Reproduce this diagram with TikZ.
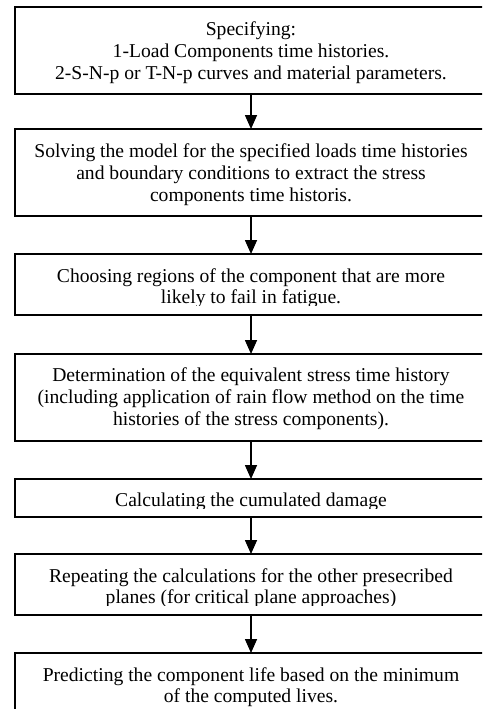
\documentclass[tikz,border=0pt]{standalone}
\usepackage{fontspec}
\setmainfont{Liberation Serif}
\usetikzlibrary{arrows.meta}
\begin{document}
\begin{tikzpicture}[x=1pt,y=-1pt,
  box/.style={draw, line width=1.6pt, minimum width=472pt, inner sep=0pt, outer sep=0pt},
  txt/.style={anchor=north, inner sep=0pt, align=center, font=\fontsize{19.6}{21.8}\selectfont},
  arr/.style={line width=1.6pt, -{Triangle[width=12pt,length=14pt]}}]
\useasboundingbox (0,0) rectangle (482,709);
\clip (0,0) rectangle (482,709);
\fill[white] (0,0) rectangle (482,709);
% boxes
\node[box, minimum height=87pt] (b1) at (251,50.5) {};
\node[box, minimum height=87pt] (b2) at (251,172.5) {};
\node[box, minimum height=61pt] (b3) at (251,284.5) {};
\node[box, minimum height=87pt] (b4) at (251,397.5) {};
\node[box, minimum height=38pt] (b5) at (251,498) {};
\node[box, minimum height=61pt] (b6) at (251,584.5) {};
\node[box, minimum height=87pt] (b7) at (251,696.5) {};
% texts
\node[txt] (t1) at (251,21.6) {Specifying:\\1-Load Components time histories.\\2-S-N-p or T-N-p curves and material parameters.};
\node[txt] (t2) at (251,143.6) {Solving the model for the specified loads time histories\\and boundary conditions to extract the stress\\components time historis.};
\begin{scope}
\clip (0,254) rectangle (482,305);
\node[txt] (t3) at (251,268.1) {Choosing regions of the component that are more\\likely to fail in fatigue.};
\end{scope}
\node[txt] (t4) at (251,367.6) {Determination of the equivalent stress time history\\(including application of rain flow method on the time\\histories of the stress components).};
\begin{scope}
\clip (0,479) rectangle (482,508);
\node[txt] (t5) at (251,493.1) {Calculating the cumulated damage};
\end{scope}
\begin{scope}
\clip (0,554) rectangle (482,605);
\node[txt] (t6) at (251,568.1) {Repeating the calculations for the other presecribed\\planes (for critical plane approaches)};
\end{scope}
\node[txt] (t7) at (251,667.1) {Predicting the component life based on the minimum\\of the computed lives.};
% arrows
\draw[arr] (b1.south) -- (b2.north);
\draw[arr] (b2.south) -- (b3.north);
\draw[arr] (b3.south) -- (b4.north);
\draw[arr] (b4.south) -- (b5.north);
\draw[arr] (b5.south) -- (b6.north);
\draw[arr] (b6.south) -- (b7.north);
\end{tikzpicture}
\end{document}
